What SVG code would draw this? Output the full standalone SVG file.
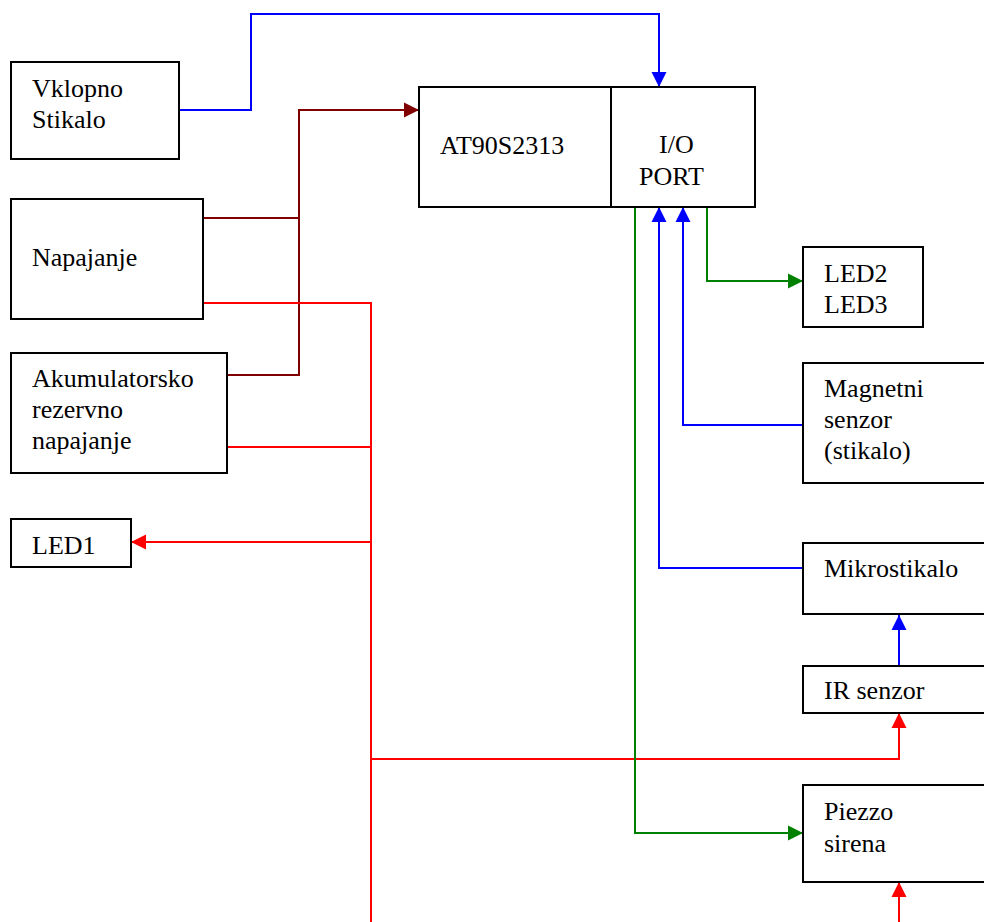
<svg xmlns="http://www.w3.org/2000/svg" width="984" height="922" viewBox="0 0 984 922">
<defs>
<marker id="aBlue" markerUnits="userSpaceOnUse" markerWidth="16" markerHeight="16" viewBox="0 0 16 16" refX="15" refY="8" orient="auto"><path d="M0,0.5 L15,8 L0,15.5 Z" fill="#0000FF"/></marker>
<marker id="aRed" markerUnits="userSpaceOnUse" markerWidth="16" markerHeight="16" viewBox="0 0 16 16" refX="15" refY="8" orient="auto"><path d="M0,0.5 L15,8 L0,15.5 Z" fill="#FF0000"/></marker>
<marker id="aDark" markerUnits="userSpaceOnUse" markerWidth="16" markerHeight="16" viewBox="0 0 16 16" refX="15" refY="8" orient="auto"><path d="M0,0.5 L15,8 L0,15.5 Z" fill="#800000"/></marker>
<marker id="aGreen" markerUnits="userSpaceOnUse" markerWidth="16" markerHeight="16" viewBox="0 0 16 16" refX="15" refY="8" orient="auto"><path d="M0,0.5 L15,8 L0,15.5 Z" fill="#008000"/></marker>
</defs>
<style>
.box{fill:#fff;stroke:#000;stroke-width:2}
.t{font-family:"Liberation Serif","Times New Roman",serif;font-size:26px;fill:#000}
.c{fill:none;stroke-width:2}
.blue{stroke:#0000FF}
.red{stroke:#FF0000}
.dark{stroke:#800000}
.green{stroke:#008000}
</style>
<rect width="984" height="922" fill="#fff"/>
<g id="connectors">
<path class="c blue" d="M179,110 H251 V14 H659 V87" marker-end="url(#aBlue)"/>
<path class="c dark" d="M204,218 H299"/>
<path class="c dark" d="M228,375 H299 V110 H419" marker-end="url(#aDark)"/>
<path class="c red" d="M203,303 H371 V922"/>
<path class="c red" d="M227,447 H371"/>
<path class="c red" d="M371,542 H131" marker-end="url(#aRed)"/>
<path class="c red" d="M371,759 H899 V713" marker-end="url(#aRed)"/>
<path class="c red" d="M899,922 V882" marker-end="url(#aRed)"/>
<path class="c green" d="M707,207 V281 H803" marker-end="url(#aGreen)"/>
<path class="c green" d="M635,207 V833 H803" marker-end="url(#aGreen)"/>
<path class="c blue" d="M803,425 H683 V207" marker-end="url(#aBlue)"/>
<path class="c blue" d="M803,568 H659 V207" marker-end="url(#aBlue)"/>
<path class="c blue" d="M899,666 V615" marker-end="url(#aBlue)"/>
</g>
<g id="vklopno"><rect class="box" x="11" y="62" width="168" height="97"/><text class="t" x="32" y="97">Vklopno</text><text class="t" x="32" y="128">Stikalo</text></g>
<g id="mcu"><rect class="box" x="419" y="87" width="192" height="120"/><text class="t" x="440" y="154">AT90S2313</text></g>
<g id="ioport"><rect class="box" x="611" y="87" width="144" height="120"/><text class="t" x="659" y="153">I/O</text><text class="t" x="639" y="185">PORT</text></g>
<g id="napajanje"><rect class="box" x="11" y="199" width="192" height="120"/><text class="t" x="32" y="266">Napajanje</text></g>
<g id="akumulator"><rect class="box" x="11" y="353" width="216" height="120"/><text class="t" x="32" y="387">Akumulatorsko</text><text class="t" x="32" y="418">rezervno</text><text class="t" x="32" y="449">napajanje</text></g>
<g id="led1"><rect class="box" x="11" y="519" width="120" height="48"/><text class="t" x="32" y="554">LED1</text></g>
<g id="led23"><rect class="box" x="803" y="247" width="120" height="80"/><text class="t" x="824" y="282">LED2</text><text class="t" x="824" y="313">LED3</text></g>
<g id="magnetni"><rect class="box" x="803" y="363" width="190" height="120"/><text class="t" x="824" y="397">Magnetni</text><text class="t" x="824" y="428">senzor</text><text class="t" x="824" y="459">(stikalo)</text></g>
<g id="mikrostikalo"><rect class="box" x="803" y="543" width="190" height="71"/><text class="t" x="824" y="577">Mikrostikalo</text></g>
<g id="ir"><rect class="box" x="803" y="666" width="190" height="47"/><text class="t" x="824" y="699">IR senzor</text></g>
<g id="piezzo"><rect class="box" x="803" y="785" width="190" height="97"/><text class="t" x="824" y="820">Piezzo</text><text class="t" x="824" y="852">sirena</text></g>
</svg>
